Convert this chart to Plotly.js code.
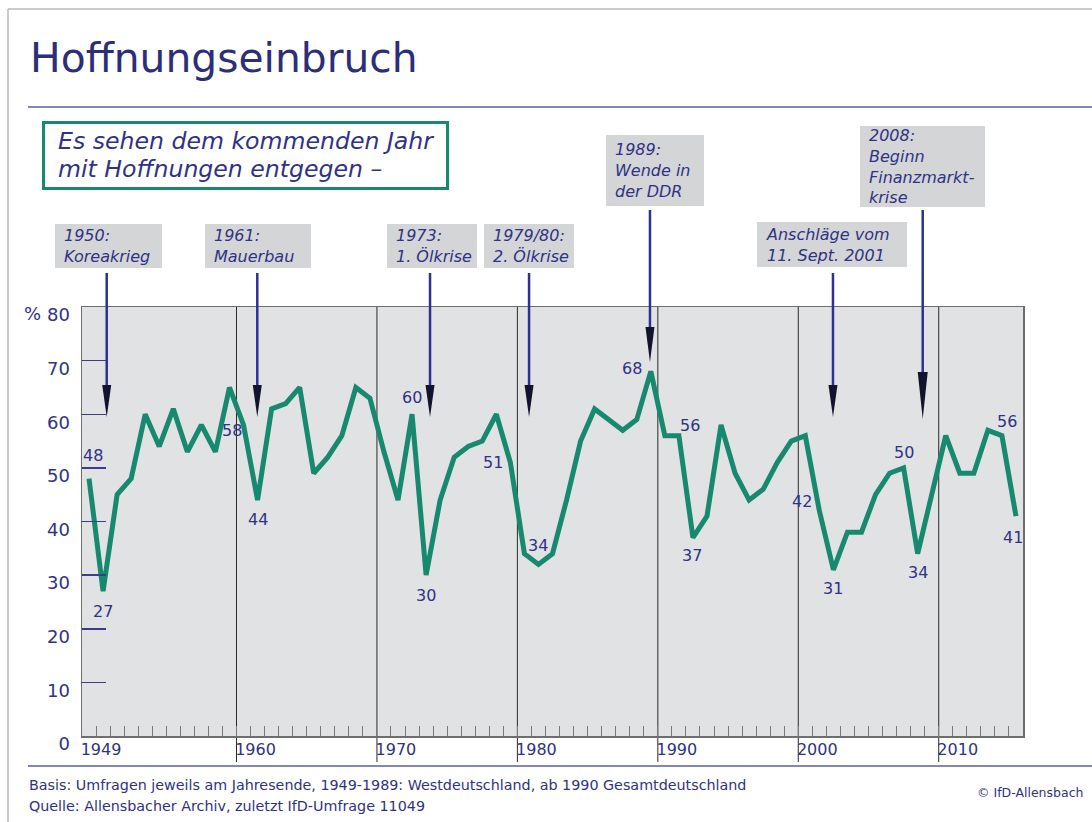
<!DOCTYPE html>
<html><head><meta charset="utf-8">
<script src="https://cdn.plot.ly/plotly-3.0.1.min.js"></script>
<style>html,body{margin:0;padding:0;background:#fff;}#chart{width:1092px;height:822px;}</style>
</head><body><div id="chart"></div>
<script>
// ---------- data ----------
const years = [1949,1950,1951,1952,1953,1954,1955,1956,1957,1958,1959,
  1960,1961,1962,1963,1964,1965,1966,1967,1968,1969,
  1970,1971,1972,1973,1974,1975,1976,1977,1978,1979,
  1980,1981,1982,1983,1984,1985,1986,1987,1988,1989,
  1990,1991,1992,1993,1994,1995,1996,1997,1998,1999,
  2000,2001,2002,2003,2004,2005,2006,2007,2008,2009,
  2010,2011,2012,2013,2014,2015];
const hopeful = [48,27,45,48,60,54,61,53,58,53,65,
  58,44,61,62,65,49,52,56,65,63,
  53,44,60,30,44,52,54,55,60,51,
  34,32,34,44,55,61,59,57,59,68,
  56,56,37,41,58,49,44,46,51,55,
  56,42,31,38,38,45,49,50,34,45,
  56,49,49,57,56,41];
const labeledYears = [1949,1950,1960,1961,1972,1973,1979,1980,1989,1991,1992,2001,2002,2007,2008,2014,2015];
const yTickValues = [0,10,20,30,40,50,60,70,80];
const yTickLabels = ['0','10','20','30','40','50','60','70','80'];
const xTickYears = [1949,1960,1970,1980,1990,2000,2010];
const xTickLabels = ['1949','1960','1970','1980','1990','2000','2010'];
const decadeYears = [1960,1970,1980,1990,2000,2010];
const eventTexts = [
  ['1950:','Koreakrieg'],
  ['1961:','Mauerbau'],
  ['1973:','1. Ölkrise'],
  ['1979/80:','2. Ölkrise'],
  ['1989:','Wende in','der DDR'],
  ['Anschläge vom','11. Sept. 2001'],
  ['2008:','Beginn','Finanzmarkt-','krise']
];
const titleText = 'Hoffnungseinbruch';
const questionLines = ['Es sehen dem kommenden Jahr','mit Hoffnungen entgegen –'];
const noteLines = ['Basis: Umfragen jeweils am Jahresende, 1949-1989: Westdeutschland, ab 1990 Gesamtdeutschland',
                   'Quelle: Allensbacher Archiv, zuletzt IfD-Umfrage 11049'];
const copyrightText = '© IfD-Allensbach';

// ---------- geometry / styles ----------
const W = 1092, H = 822, L = 82, T = 307, PW = 941, PH = 429;
const fx = x => (x - L) / PW;
const fy = y => (T + PH - y) / PH;
const FONT = 'DejaVu Sans';
const NAVY = '#2f3285';
const GREEN = '#17896f';
const pxPerYear = PW / 67;

// label offsets (pixels) for the labeled points
const labelShift = {
  1949:[4,23], 1950:[0,-20], 1960:[-12,-6], 1961:[0,-19], 1972:[0,17], 1973:[0,-20],
  1979:[-17,0], 1980:[14,8], 1989:[-19,3], 1991:[11,10], 1992:[-1,-18], 2001:[-17,9],
  2002:[0,-19], 2007:[0,15], 2008:[0,-19], 2014:[5,14], 2015:[-3,-21]
};
// event boxes: arrow year position, box [left, top, width, height], line top, head top, tip, half width
const eventGeom = [
  {ax:1950.76, box:[55,224,107,44], lt:273, ht:385, tip:417, hw:4.5},
  {ax:1961.48, box:[205,224,106,44], lt:273, ht:385, tip:417, hw:4.5},
  {ax:1973.78, box:[387,224,90,44], lt:273, ht:385, tip:417, hw:4.5},
  {ax:1980.83, box:[484,224,90,44], lt:273, ht:385, tip:417, hw:4.5},
  {ax:1989.44, box:[606,135,98,71], lt:210, ht:327, tip:362, hw:4.5},
  {ax:2002.47, box:[757,222,150,45], lt:273, ht:385, tip:417, hw:4.5},
  {ax:2008.86, box:[860,126,125,81], lt:210, ht:372, tip:419, hw:5}
];

const xMid = years.map(y => y + 0.5);

const trace = {
  x: xMid, y: hopeful, type: 'scatter', mode: 'lines',
  line: {color: GREEN, width: 5, shape: 'linear'},
  hoverinfo: 'x+y', showlegend: false
};

const shapes = [];
const annotations = [];

// frame and rules
shapes.push({type:'line', xref:'paper', yref:'paper', x0:fx(8), x1:fx(1092), y0:fy(9), y1:fy(9), line:{color:'#b8b8b8', width:1.5}});
shapes.push({type:'line', xref:'paper', yref:'paper', x0:fx(8), x1:fx(8), y0:fy(9), y1:fy(822), line:{color:'#b8b8b8', width:1.5}});
shapes.push({type:'line', xref:'paper', yref:'paper', x0:fx(28), x1:fx(1092), y0:fy(107), y1:fy(107), line:{color:'#5a5e9e', width:1.5}});
shapes.push({type:'line', xref:'paper', yref:'paper', x0:fx(28), x1:fx(1092), y0:fy(766), y1:fy(766), line:{color:'#5a5e9e', width:1.5}});

// decade lines
decadeYears.forEach(d => {
  shapes.push({type:'line', xref:'x', yref:'paper', x0:d, x1:d, y0:fy(762), y1:1, layer:'below',
    line:{color:'#2a2a2a', width:1}});
});

// question box
shapes.push({type:'rect', xref:'paper', yref:'paper', x0:fx(43.5), x1:fx(447.5), y0:fy(122.5), y1:fy(188.5),
  line:{color:GREEN, width:3}, fillcolor:'#ffffff'});
questionLines.forEach((t, i) => {
  annotations.push({xref:'paper', yref:'paper', x:fx(56), y:fy([141,169][i]), xanchor:'left', yanchor:'middle',
    text:t, showarrow:false, font:{family:FONT, size:23.6, color:NAVY, style:'italic'}});
});

// events
eventTexts.forEach((lines, k) => {
  const g = eventGeom[k];
  const [bl, bt, bw, bh] = g.box;
  shapes.push({type:'rect', xref:'paper', yref:'paper', x0:fx(bl), x1:fx(bl+bw), y0:fy(bt), y1:fy(bt+bh),
    line:{width:0}, fillcolor:'#d4d5d6'});
  annotations.push({xref:'paper', yref:'paper', x:fx(bl+7), y:fy(bt + bh/2), xanchor:'left', yanchor:'middle',
    align:'left', text:lines.join('<br>'), showarrow:false,
    font:{family:FONT, size:16, color:NAVY, style:'italic'}});
  shapes.push({type:'line', xref:'x', yref:'paper', x0:g.ax, x1:g.ax, y0:fy(g.lt), y1:fy(g.ht+2),
    line:{color:'#2e3192', width:2.5}});
  const hwY = g.hw / pxPerYear;
  shapes.push({type:'path', xref:'x', yref:'paper',
    path:`M ${g.ax-hwY},${fy(g.ht)} L ${g.ax+hwY},${fy(g.ht)} L ${g.ax},${fy(g.tip)} Z`,
    fillcolor:'#12142e', line:{width:0}});
});

// point labels
labeledYears.forEach(yr => {
  const i = years.indexOf(yr);
  const s = labelShift[yr];
  annotations.push({xref:'x', yref:'y', x:xMid[i], y:hopeful[i], text:String(hopeful[i]), showarrow:false,
    xshift:s[0], yshift:s[1], font:{family:FONT, size:16, color:NAVY}});
});

// percent sign
annotations.push({xref:'paper', yref:'paper', x:fx(32), y:fy(313), xanchor:'center', yanchor:'middle',
  text:'%', showarrow:false, font:{family:FONT, size:18, color:NAVY}});

// footer
noteLines.forEach((t, i) => {
  annotations.push({xref:'paper', yref:'paper', x:fx(27), y:fy([785,806][i]), xanchor:'left', yanchor:'middle',
    text:t, showarrow:false, font:{family:FONT, size:14.3, color:NAVY}});
});
annotations.push({xref:'paper', yref:'paper', x:fx(1085), y:fy(792), xanchor:'right', yanchor:'middle',
  text:copyrightText, showarrow:false, font:{family:FONT, size:12.5, color:NAVY}});

const layout = {
  width: W, height: H,
  margin: {l: L, r: W - L - PW, t: T, b: H - T - PH, pad: 0},
  paper_bgcolor: '#ffffff', plot_bgcolor: '#e1e2e4',
  title: {text: titleText, x: 30 / W, xanchor: 'left', y: 1 - 58 / H, yanchor: 'middle',
    font: {family: FONT, size: 40.8, color: '#2c2e78'}},
  font: {family: FONT, color: NAVY},
  showlegend: false,
  xaxis: {
    range: [1949, 2016], showgrid: false, zeroline: false,
    showline: true, mirror: true, linecolor: '#6e6e6e', linewidth: 1.5,
    tickmode: 'array', tickvals: xTickYears, ticktext: xTickLabels,
    ticks: 'inside', ticklen: 10, tickwidth: 1, tickcolor: '#7a7a7a',
    ticklabelshift: 19, ticklabelstandoff: -2, tickfont: {family: FONT, size: 16, color: NAVY},
    minor: {tickmode: 'linear', tick0: 1949, dtick: 1, ticks: 'inside', ticklen: 10, tickwidth: 1, tickcolor: '#7a7a7a', showgrid: false},
    fixedrange: true
  },
  yaxis: {
    range: [0, 80], showgrid: false, zeroline: false,
    showline: true, mirror: true, linecolor: '#6e6e6e', linewidth: 1.5,
    tickmode: 'array', tickvals: yTickValues, ticktext: yTickLabels,
    ticks: 'inside', ticklen: 24, tickwidth: 1.5, tickcolor: '#3a3d8e',
    ticklabelshift: 8, ticklabelstandoff: 7,
    tickfont: {family: FONT, size: 18, color: NAVY},
    fixedrange: true
  },
  shapes: shapes,
  annotations: annotations
};

Plotly.newPlot('chart', [trace], layout, {displayModeBar: false, staticPlot: true});
</script>
</body></html>
